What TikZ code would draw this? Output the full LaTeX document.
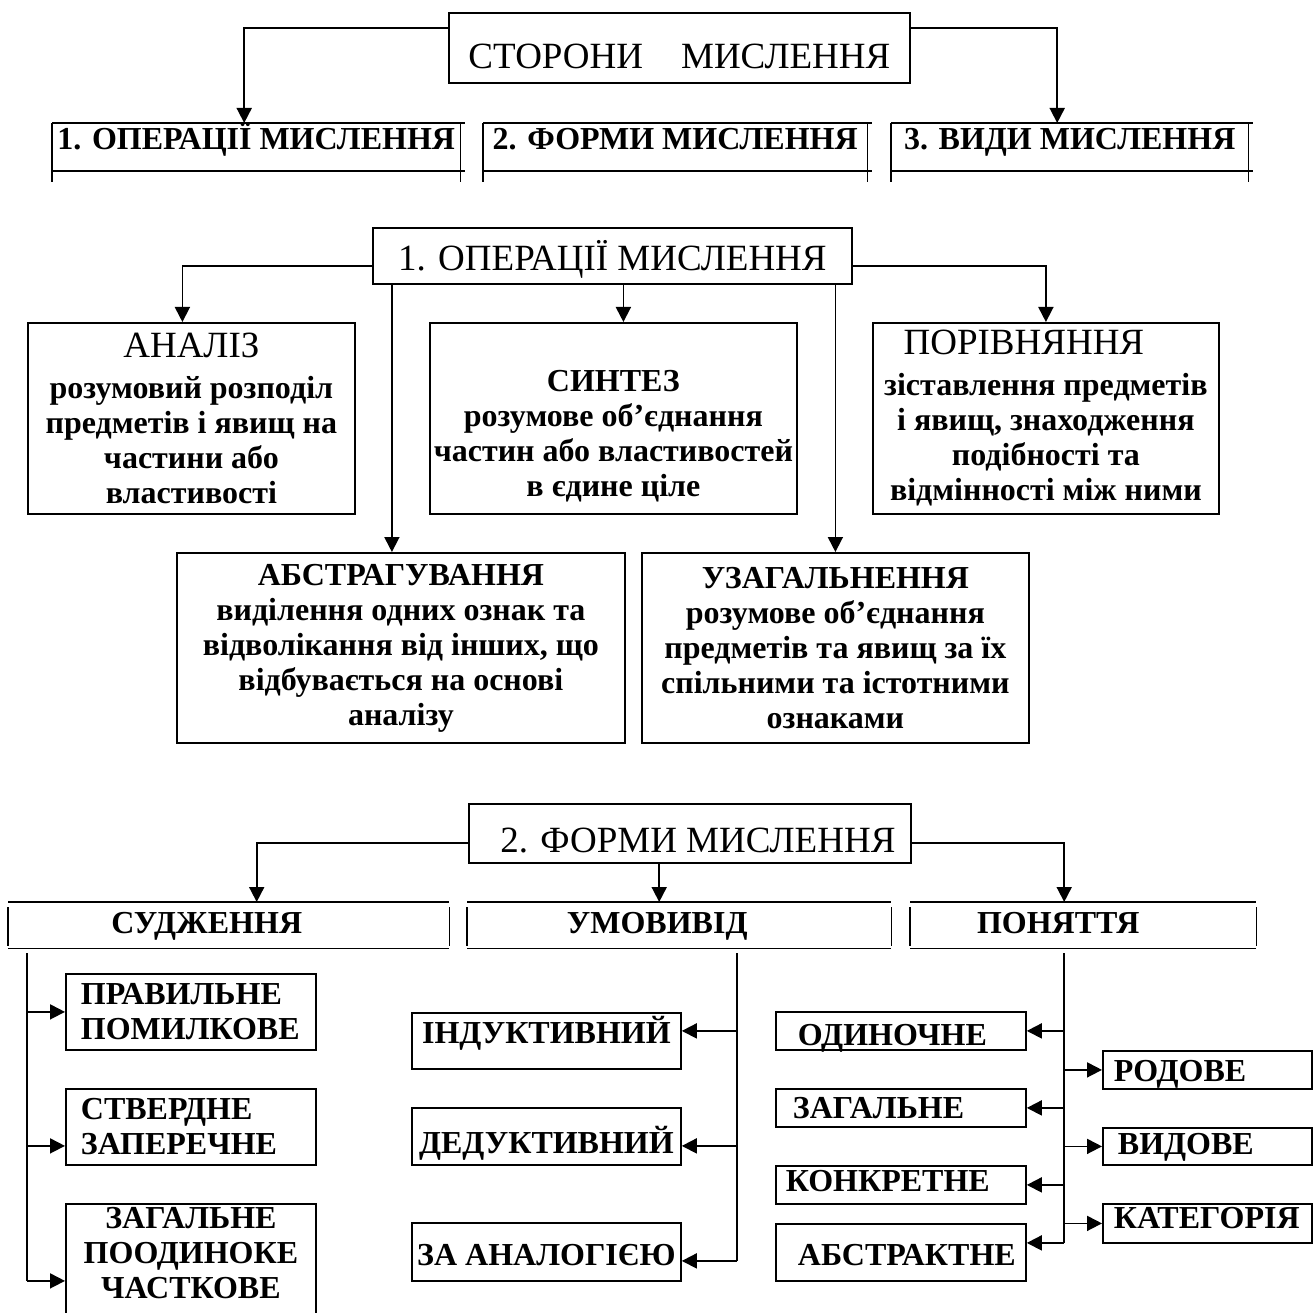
\documentclass[tikz,border=0pt]{standalone}
\usepackage{fontspec}
\setmainfont{Liberation Serif}
\usetikzlibrary{arrows.meta}

\newcommand{\hdfont}{\mdseries\fontsize{37}{40}\selectfont}
\newcommand{\bdfont}{\bfseries\fontsize{32}{35}\selectfont}

\tikzset{
  ln/.style={line width=1.8pt},
  arr/.style={ln,-{Triangle[length=15pt,width=15pt]}},
  box/.style={draw,ln,inner sep=0pt,anchor=north west,font=\bdfont},
  hbox/.style={box,font=\hdfont},
  cell/.style={inner sep=0pt,anchor=north west,font=\bdfont},
  sz/.style 2 args={minimum width=#1pt,minimum height=#2pt},
  bl/.style={text height=#1,text depth=0pt},
}

\begin{document}
\begin{tikzpicture}[x=1pt,y=-1pt]
  \useasboundingbox (0,0) rectangle (1314,1313);

  % sides of thinking
  \node[hbox,sz={461}{70},bl=42pt] (h0) at (448,12) {СТОРОНИ\hspace{38pt}МИСЛЕННЯ};
  \node[cell,sz={408}{48},bl=4pt] (b1) at (52,123) {1. ОПЕРАЦІЇ МИСЛЕННЯ};
  \node[cell,sz={384}{48},bl=4pt] (b2) at (483,123) {2. ФОРМИ МИСЛЕННЯ};
  \node[cell,sz={357}{48},bl=4pt] (b3) at (891,123) {3. ВИДИ МИСЛЕННЯ};
  \foreach \c in {b1,b2,b3}
    \draw[ln] (\c.north west) -- ([xshift=5pt]\c.north east)
              (\c.south west) -- ([xshift=5pt]\c.south east)
              (\c.north west) -- ([yshift=-11pt]\c.south west)
              (\c.north east) -- ([yshift=-11pt]\c.south east);
  \draw[arr] ([yshift=20pt]h0.west) -| ([xshift=-12pt]b1.north);
  \draw[arr] ([yshift=20pt]h0.east) -| ([xshift=-12.5pt]b3.north);

  % operations
  \node[hbox,sz={479}{56},bl=30pt] (h1) at (372,227) {1. ОПЕРАЦІЇ МИСЛЕННЯ};
  \node[box,sz={327}{191},align=center] (analiz) at (27,322)
    {{\hdfont АНАЛІЗ}\\[6pt] розумовий розподіл\\ предметів і явищ на\\ частини або\\ властивості};
  \node[box,sz={367}{191},align=center] (synt) at (429,322)
    {\rule{0pt}{56pt}СИНТЕЗ\\ розумове об’єднання\\ частин або властивостей\\ в єдине ціле};
  \node[box,sz={346}{191},align=center] (porivn) at (872,322)
    {{\hdfont ПОРІВНЯННЯ}\hspace*{44pt}\\[6pt] зіставлення предметів\\ і явищ, знаходження\\ подібності та\\ відмінності між ними};
  \node[box,sz={448}{190},align=center] (abstr) at (176,552)
    {АБСТРАГУВАННЯ\\ виділення одних ознак та\\ відволікання від інших, що\\ відбувається на основі\\ аналізу};
  \node[box,sz={387}{190},align=center] (uzag) at (641,552)
    {УЗАГАЛЬНЕННЯ\\ розумове об’єднання\\ предметів та явищ за їх\\ спільними та істотними\\ ознаками};
  \draw[arr] ([yshift=-10pt]h1.west) -| ([xshift=-9pt]analiz.north);
  \draw[arr] ([yshift=-10pt]h1.east) -| (porivn.north);
  \draw[arr] ([xshift=10pt]synt.north |- h1.south) -- ([xshift=10pt]synt.north);
  \draw[arr] ([xshift=-9pt]abstr.north |- h1.south) -- ([xshift=-9pt]abstr.north);
  \draw[arr] (uzag.north |- h1.south) -- (uzag.north);

  % forms
  \node[hbox,sz={442}{59},bl=39pt] (h2) at (468,803) {\hspace*{16pt}2. ФОРМИ МИСЛЕННЯ};
  \node[cell,sz={441}{46},bl=16pt] (sud) at (8,902) {СУДЖЕННЯ\hspace*{44pt}};
  \node[cell,sz={424}{46},bl=16pt] (umov) at (467,902) {УМОВИВІД\hspace*{44pt}};
  \node[cell,sz={346}{46},bl=16pt] (pon) at (910,902) {ПОНЯТТЯ\hspace*{50pt}};
  \foreach \c in {sud,umov,pon}
    \draw[ln] (\c.north west) -- (\c.north east)
              (\c.south west) -- (\c.south east)
              ([yshift=-5pt]\c.north west) -- ([yshift=2pt]\c.south west)
              ([yshift=-5pt]\c.north east) -- ([yshift=2pt]\c.south east);
  \draw[arr] ([yshift=-9.5pt]h2.west) -| ([xshift=28pt]sud.north);
  \draw[arr] ([yshift=-9.5pt]h2.east) -| ([xshift=-19pt]pon.north);
  \draw[arr] ([xshift=-20pt]umov.north |- h2.south) -- ([xshift=-20pt]umov.north);

  \node[box,sz={250}{76},text width=220pt,align=left] (prav) at (65,973) {ПРАВИЛЬНЕ\\ ПОМИЛКОВЕ};
  \node[box,sz={250}{76},text width=220pt,align=left] (stv) at (65,1088) {СТВЕРДНЕ\\ ЗАПЕРЕЧНЕ};
  \node[box,sz={250}{114},align=center] (zagp) at (65,1203) {ЗАГАЛЬНЕ\\ ПООДИНОКЕ\\ ЧАСТКОВЕ\\[-19pt]};

  \node[box,sz={269}{56},bl=6pt] (ind) at (411,1012) {ІНДУКТИВНИЙ};
  \node[box,sz={269}{57},bl=35pt] (ded) at (411,1107) {ДЕДУКТИВНИЙ};
  \node[box,sz={269}{58},bl=28pt] (anal) at (411,1222) {ЗА АНАЛОГІЄЮ};

  \node[box,sz={250}{38},text width=230pt,align=left,bl=30pt] (odyn) at (775,1011) {\hspace*{12pt}ОДИНОЧНЕ};
  \node[box,sz={250}{38},text width=230pt,align=left,bl=22pt] (zag2) at (775,1088) {\hspace*{7pt}ЗАГАЛЬНЕ};
  \node[box,sz={250}{38},text width=230pt,align=left,bl=14pt] (konk) at (775,1165) {КОНКРЕТНЕ};
  \node[box,sz={250}{57},text width=230pt,align=left,bl=27pt] (abstr2) at (775,1223) {\hspace*{12pt}АБСТРАКТНЕ};
  \node[box,sz={209}{38},text width=187pt,align=left,bl=24pt] (rod) at (1102,1050) {РОДОВЕ};
  \node[box,sz={209}{37},text width=187pt,align=left,bl=17pt] (vyd) at (1102,1127) {\hspace*{4pt}ВИДОВЕ};
  \node[box,sz={209}{39},text width=187pt,align=left,bl=11pt] (kat) at (1102,1203) {КАТЕГОРІЯ};

  \coordinate (ts) at (27,953);
  \coordinate (tu) at (737,953);
  \coordinate (tp) at (1064,953);
  \draw[ln] (ts) -- ([yshift=-20pt]zagp.west -| ts);
  \foreach \n/\d in {prav/0pt,stv/-19pt,zagp/-20pt}
    \draw[arr] ([yshift=\d]\n.west -| ts) -- ([yshift=\d]\n.west);
  \draw[ln] (tu) -- ([yshift=-9pt]anal.east -| tu);
  \foreach \n/\d in {ind/10pt,ded/-9.5pt,anal/-9pt}
    \draw[arr] ([yshift=\d]\n.east -| tu) -- ([yshift=\d]\n.east);
  \draw[ln] (tp) -- ([yshift=9.5pt]abstr2.east -| tp);
  \foreach \n/\d in {odyn/0pt,zag2/0pt,konk/0pt,abstr2/9.5pt}
    \draw[arr] ([yshift=\d]\n.east -| tp) -- ([yshift=\d]\n.east);
  \foreach \n in {rod,vyd,kat}
    \draw[arr] (\n.west -| tp) -- (\n.west);
\end{tikzpicture}
\end{document}
